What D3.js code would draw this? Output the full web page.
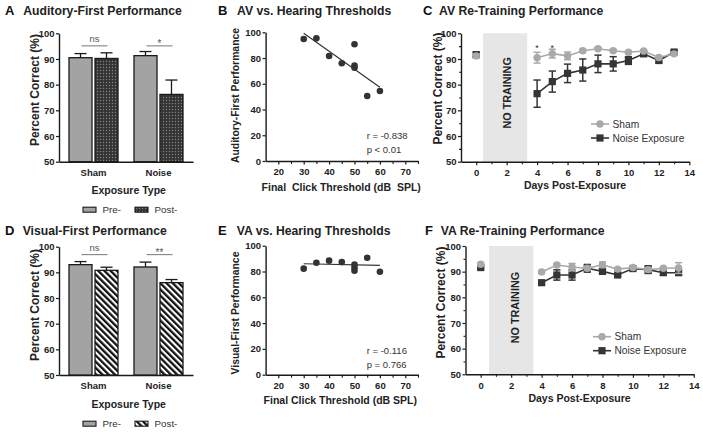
<!DOCTYPE html>
<html><head><meta charset="utf-8">
<script src="https://cdn.jsdelivr.net/npm/d3@7"></script>
<style>
body{margin:0;background:#fff;}
svg text{font-family:"Liberation Sans",Arial,Helvetica,sans-serif;}
</style></head><body>
<svg id="c" width="703" height="432"></svg>
<script>
// ---------------- DATA ----------------
const barGroups = ["Sham", "Noise"];
const barPhases = ["Pre-", "Post-"];
// Auditory-first (A)
const afPre = [90.5, 91.3];
const afPreErr = [1.6, 1.6];
const afPost = [90.2, 76.2];
const afPostErr = [2.2, 5.6];
const afSig = ["ns", "*"];
const afSigLevel = [95.1, 95.1];
// Visual-first (D)
const vfPre = [93.0, 92.1];
const vfPreErr = [1.2, 1.9];
const vfPost = [90.8, 86.0];
const vfPostErr = [1.2, 1.2];
const vfSig = ["ns", "**"];
const vfSigLevel = [96.9, 96.9];
const barTicks = [50, 60, 70, 80, 90, 100];

// Scatter (B, E)
const thresholds = [30, 35, 40, 45, 50, 50, 50, 55, 60];
const avPerf = [94.8, 95.3, 81.6, 75.9, 90.7, 74.1, 72.5, 50.5, 54.4];
const vaPerf = [82.2, 86.8, 88.4, 87.3, 85.3, 82.9, 80.6, 90.7, 79.8];
const avFitX = [30, 60], avFitY = [99.2, 57.3];
const vaFitX = [30, 60], vaFitY = [86.0, 84.8];
const avStats = ["r = -0.838", "p < 0.01"];
const vaStats = ["r = -0.116", "p = 0.766"];
const scatterXTicks = [20, 30, 40, 50, 60, 70];
const scatterXMinor = [25, 35, 45, 55, 65, 75];
const scatterYTicks = [0, 20, 40, 60, 80, 100];

// Re-training (C, F)
const days = [0, 4, 5, 6, 7, 8, 9, 10, 11, 12, 13];
const avSham = [91.2, 90.5, 92.1, 91.2, 93.2, 94.0, 93.2, 92.6, 93.1, 90.6, 92.0];
const avShamErr = [0.8, 2.1, 1.7, 1.5, 0.5, 0.5, 0.5, 0.5, 0.5, 0.5, 0.5];
const avNoise = [91.7, 76.5, 81.2, 84.4, 85.7, 88.1, 88.1, 89.4, 92.0, 89.4, 92.7];
const avNoiseErr = [0.8, 5.3, 4.1, 3.6, 4.3, 3.4, 2.8, 1.5, 0.8, 0.8, 0.6];
const vaSham = [92.9, 89.9, 92.6, 91.8, 91.3, 92.7, 91.0, 91.6, 90.8, 91.3, 91.4];
const vaShamErr = [0.6, 0.5, 0.5, 1.4, 0.8, 1.1, 0.5, 0.5, 0.8, 0.5, 2.1];
const vaNoise = [91.6, 85.7, 88.7, 88.7, 91.3, 90.1, 88.7, 91.2, 90.8, 89.6, 89.6];
const vaNoiseErr = [0.5, 0.5, 2.0, 2.0, 1.5, 1.0, 0.5, 0.5, 1.5, 1.0, 1.0];
const avNoTraining = [0.45, 3.35];
const vaNoTraining = [0.55, 3.45];
const avStarDays = [4, 5];
const lineXTicks = [0, 2, 4, 6, 8, 10, 12, 14];
const lineXMinor = [1, 3, 5, 7, 9, 11, 13];
const lineYTicks = [50, 60, 70, 80, 90, 100];
const lineYMinor = [55, 65, 75, 85, 95];
const seriesNames = ["Sham", "Noise Exposure"];

// ---------------- DRAWING ----------------
const svg = d3.select("#c");
const FONT = '"Liberation Sans",Arial,Helvetica,sans-serif';
const INK = "#1a1a1a";
const SHAM_C = "#a9a9a9";
const NOISE_C = "#353535";

const defs = svg.append("defs");
const pd = defs.append("pattern").attr("id", "dots").attr("patternUnits", "userSpaceOnUse")
  .attr("width", 3).attr("height", 3);
pd.append("rect").attr("width", 3).attr("height", 3).attr("fill", "#333");
pd.append("circle").attr("cx", 1.5).attr("cy", 1.5).attr("r", 0.7).attr("fill", "#858585");
const ps = defs.append("pattern").attr("id", "stripes").attr("patternUnits", "userSpaceOnUse")
  .attr("width", 4.4).attr("height", 10).attr("patternTransform", "rotate(-45)");
ps.append("rect").attr("width", 4.4).attr("height", 10).attr("fill", "#fff");
ps.append("rect").attr("width", 2.3).attr("height", 10).attr("fill", "#111");

function styleAxis(g, fs) {
  g.attr("font-family", FONT).attr("font-size", fs || 9.5).attr("font-weight", "bold");
  g.select(".domain").attr("stroke", INK).attr("stroke-width", 1.4);
  g.selectAll(".tick line").attr("stroke", INK).attr("stroke-width", 1.2);
  g.selectAll(".tick text").attr("fill", "#222");
}
function minorAxis(g) {
  g.select(".domain").remove();
  g.selectAll(".tick text").remove();
  g.selectAll(".tick line").attr("stroke", INK).attr("stroke-width", 1.1);
}
function title(x0, x1, y, letter, txt) {
  svg.append("text").attr("x", x0).attr("y", y).attr("font-size", 13).attr("font-weight", "bold")
    .attr("fill", "#111").text(letter);
  svg.append("text").attr("x", x1).attr("y", y).attr("font-size", 12.2).attr("font-weight", "bold")
    .attr("fill", "#222").text(txt);
}
function yLabel(x, cy, txt, fs) {
  svg.append("text").attr("transform", `translate(${x},${cy}) rotate(-90)`).attr("text-anchor", "middle")
    .attr("font-size", fs).attr("font-weight", "bold").attr("fill", "#222").text(txt);
}
function xLabel(cx, y, txt, fs) {
  svg.append("text").attr("x", cx).attr("y", y).attr("text-anchor", "middle")
    .attr("font-size", fs).attr("font-weight", "bold").attr("fill", "#222")
    .style("white-space", "pre").text(txt);
}

// ---- Bar panels ----
function barPanel(o) {
  const y = d3.scaleLinear().domain([50, 100]).range([o.yBot, o.yTop]);
  const xb = d3.scaleBand().domain(barGroups).range([59, 193]).paddingInner(0).paddingOuter(0.031);
  const sub = d3.scaleBand().domain(barPhases).range([-24.5, 24.5]).paddingInner(3 / 26);
  const cx = g => xb(g) + xb.bandwidth() / 2;

  svg.append("g").attr("transform", `translate(59,0)`)
    .call(d3.axisLeft(y).tickValues(barTicks).tickSize(3).tickPadding(1.5).tickSizeOuter(0))
    .call(g => styleAxis(g, 9.5));
  svg.append("g").attr("transform", `translate(0,${o.yBot})`)
    .call(d3.axisBottom(xb).tickSize(0).tickPadding(7.3).tickSizeOuter(0))
    .call(g => styleAxis(g, 9.5));

  const rows = [];
  barGroups.forEach((g, i) => {
    rows.push({ g, ph: "Pre-", v: o.pre[i], e: o.preErr[i], fill: "#a3a3a3" });
    rows.push({ g, ph: "Post-", v: o.post[i], e: o.postErr[i], fill: o.postFill });
  });
  const gb = svg.append("g");
  gb.selectAll("rect").data(rows).join("rect")
    .attr("x", d => cx(d.g) + sub(d.ph))
    .attr("width", sub.bandwidth())
    .attr("y", d => y(d.v))
    .attr("height", d => y(50) - y(d.v))
    .attr("fill", d => d.fill).attr("stroke", INK).attr("stroke-width", 1.3);
  const eb = svg.append("g").attr("stroke", INK).attr("stroke-width", 1.3);
  rows.forEach(d => {
    const xm = cx(d.g) + sub(d.ph) + sub.bandwidth() / 2;
    eb.append("line").attr("x1", xm).attr("x2", xm).attr("y1", y(d.v)).attr("y2", y(d.v + d.e));
    eb.append("line").attr("x1", xm - 6).attr("x2", xm + 6).attr("y1", y(d.v + d.e)).attr("y2", y(d.v + d.e));
  });
  // significance
  barGroups.forEach((g, i) => {
    const x1 = cx(g) + sub("Pre-") + sub.bandwidth() / 2 + 1;
    const x2 = cx(g) + sub("Post-") + sub.bandwidth() / 2 + 1;
    svg.append("line").attr("x1", x1).attr("x2", x2).attr("y1", y(o.sigLevel[i])).attr("y2", y(o.sigLevel[i]))
      .attr("stroke", "#777").attr("stroke-width", 1);
    const isStar = o.sig[i].indexOf("*") >= 0;
    svg.append("text").attr("x", (x1 + x2) / 2).attr("y", y(o.sigLevel[i]) - (isStar ? -1 : 3.5))
      .attr("text-anchor", "middle").attr("font-size", isStar ? 10 : 9.5).attr("fill", "#555")
      .text(o.sig[i]);
  });
  // legend
  const lg = svg.append("g");
  barPhases.forEach((p, i) => {
    const lx = 83 + i * 52;
    lg.append("rect").attr("x", lx).attr("y", o.legY - 2.5).attr("width", 13).attr("height", 5)
      .attr("fill", i === 0 ? "#a3a3a3" : o.postFill).attr("stroke", INK).attr("stroke-width", 1.1);
    lg.append("text").attr("x", lx + 19.5).attr("y", o.legY + 3.5).attr("font-size", 9.8)
      .attr("fill", "#333").text(p);
  });
}

// ---- Scatter panels ----
function scatterPanel(o) {
  const x = d3.scaleLinear().domain([15, 75]).range([265.6, 418]);
  const y = d3.scaleLinear().domain([0, 100]).range([o.yBot, o.yTop]);
  svg.append("g").attr("transform", `translate(${x(15)},0)`)
    .call(d3.axisLeft(y).tickValues(scatterYTicks).tickSize(3).tickPadding(1.5).tickSizeOuter(0))
    .call(g => styleAxis(g, 9.5));
  svg.append("g").attr("transform", `translate(0,${o.yBot})`)
    .call(d3.axisBottom(x).tickValues(scatterXMinor).tickSize(3).tickFormat(""))
    .call(minorAxis);
  svg.append("g").attr("transform", `translate(0,${o.yBot})`)
    .call(d3.axisBottom(x).tickValues(scatterXTicks).tickSize(3.5).tickPadding(4).tickSizeOuter(0))
    .call(g => styleAxis(g, 9.5));
  svg.append("path").datum(o.fitX.map((v, i) => [v, o.fitY[i]]))
    .attr("d", d3.line().x(d => x(d[0])).y(d => y(d[1])))
    .attr("stroke", "#333").attr("stroke-width", 1.2).attr("fill", "none");
  svg.append("g").selectAll("circle").data(thresholds.map((t, i) => [t, o.perf[i]])).join("circle")
    .attr("cx", d => x(d[0])).attr("cy", d => y(d[1])).attr("r", 3.3).attr("fill", "#333");
  o.stats.forEach((s, i) => {
    svg.append("text").attr("x", 366.7).attr("y", o.statY + i * 14).attr("font-size", 9.5)
      .attr("fill", "#333").text(s);
  });
}

// ---- Line panels ----
function linePanel(o) {
  const x = d3.scaleLinear().domain([-1, 14]).range([o.x0, o.x0 + 228.3]);
  const y = d3.scaleLinear().domain([50, 100]).range([o.yBot, o.yTop]);
  svg.append("rect").attr("x", x(o.nt[0])).attr("width", x(o.nt[1]) - x(o.nt[0]))
    .attr("y", y(100)).attr("height", y(50) - y(100)).attr("fill", "#e6e6e6");
  const ncx = (x(o.nt[0]) + x(o.nt[1])) / 2, ncy = y(o.ntY);
  svg.append("text").attr("transform", `translate(${ncx + o.ntDx},${ncy}) rotate(-90)`)
    .attr("text-anchor", "middle").attr("font-size", 10.8).attr("font-weight", "bold").attr("fill", "#222")
    .text("NO TRAINING");

  svg.append("g").attr("transform", `translate(${o.x0},0)`)
    .call(d3.axisLeft(y).tickValues(lineYMinor).tickSize(2).tickFormat(""))
    .call(minorAxis);
  svg.append("g").attr("transform", `translate(${o.x0},0)`)
    .call(d3.axisLeft(y).tickValues(lineYTicks).tickSize(3).tickPadding(1.5).tickSizeOuter(0))
    .call(g => styleAxis(g, 9.5));
  svg.append("g").attr("transform", `translate(0,${o.yBot})`)
    .call(d3.axisBottom(x).tickValues(lineXMinor).tickSize(2.5).tickFormat(""))
    .call(minorAxis);
  svg.append("g").attr("transform", `translate(0,${o.yBot})`)
    .call(d3.axisBottom(x).tickValues(lineXTicks).tickSize(3.5).tickPadding(4).tickSizeOuter(0))
    .call(g => styleAxis(g, 9.5));

  const series = [
    { name: seriesNames[1], v: o.noise, e: o.noiseErr, c: NOISE_C, shape: "sq" },
    { name: seriesNames[0], v: o.sham, e: o.shamErr, c: SHAM_C, shape: "ci" }
  ];
  series.forEach(s => {
    const pts = days.map((d, i) => ({ d, v: s.v[i], e: s.e[i] }));
    const g = svg.append("g");
    g.append("path").datum(pts.filter(p => p.d > 0))
      .attr("d", d3.line().x(p => x(p.d)).y(p => y(p.v)))
      .attr("fill", "none").attr("stroke", s.c).attr("stroke-width", 1.6);
    pts.forEach(p => {
      g.append("line").attr("x1", x(p.d)).attr("x2", x(p.d)).attr("y1", y(p.v - p.e)).attr("y2", y(p.v + p.e))
        .attr("stroke", s.c).attr("stroke-width", 1.5);
      [p.v - p.e, p.v + p.e].forEach(vv => g.append("line").attr("x1", x(p.d) - 3.6).attr("x2", x(p.d) + 3.6)
        .attr("y1", y(vv)).attr("y2", y(vv)).attr("stroke", s.c).attr("stroke-width", 1.5));
    });
    pts.forEach(p => {
      if (s.shape === "sq") g.append("rect").attr("x", x(p.d) - 3.6).attr("y", y(p.v) - 3.6)
        .attr("width", 7.2).attr("height", 7.2).attr("fill", s.c);
      else g.append("circle").attr("cx", x(p.d)).attr("cy", y(p.v)).attr("r", 3.7).attr("fill", s.c);
    });
  });
  // legend
  series.slice().reverse().forEach((s, i) => {
    const ly = o.legY + i * 14;
    svg.append("line").attr("x1", o.legX).attr("x2", o.legX + 18).attr("y1", ly).attr("y2", ly)
      .attr("stroke", s.c).attr("stroke-width", 1.6);
    if (s.shape === "sq") svg.append("rect").attr("x", o.legX + 9 - 3.6).attr("y", ly - 3.6)
      .attr("width", 7.2).attr("height", 7.2).attr("fill", s.c);
    else svg.append("circle").attr("cx", o.legX + 9).attr("cy", ly).attr("r", 3.7).attr("fill", s.c);
    svg.append("text").attr("x", o.legX + 21.5).attr("y", ly + 3.6).attr("font-size", 10.2)
      .attr("fill", "#333").text(s.name);
  });
  (o.stars || []).forEach(d => {
    svg.append("text").attr("x", x(d)).attr("y", y(95.2) + 5).attr("text-anchor", "middle")
      .attr("font-size", 9).attr("fill", "#333").text("*");
  });
}

// ---------------- PANELS ----------------
title(5, 23.3, 15, "A", "Auditory-First Performance");
barPanel({ yTop: 33.3, yBot: 161.7, pre: afPre, preErr: afPreErr, post: afPost, postErr: afPostErr,
  postFill: "url(#dots)", sig: afSig, sigLevel: afSigLevel, legY: 209.7 });
yLabel(38.5, 90, "Percent Correct (%)", 12);
xLabel(128.7, 193.5, "Exposure Type", 10.5);

title(5, 22.7, 234.5, "D", "Visual-First Performance");
barPanel({ yTop: 246.7, yBot: 375, pre: vfPre, preErr: vfPreErr, post: vfPost, postErr: vfPostErr,
  postFill: "url(#stripes)", sig: vfSig, sigLevel: vfSigLevel, legY: 423.7 });
yLabel(38.5, 305, "Percent Correct (%)", 12);
xLabel(128.7, 407.5, "Exposure Type", 10.5);

title(218, 237, 15, "B", "AV vs. Hearing Thresholds");
scatterPanel({ yTop: 32.3, yBot: 161, perf: avPerf, fitX: avFitX, fitY: avFitY, stats: avStats, statY: 138.5 });
yLabel(238.5, 95.5, "Auditory-First Performance", 10.4);
xLabel(341.2, 190.5, "Final  Click Threshold (dB  SPL)", 10.5);

title(218, 236.7, 235, "E", "VA vs. Hearing Thresholds");
scatterPanel({ yTop: 245.7, yBot: 374.7, perf: vaPerf, fitX: vaFitX, fitY: vaFitY, stats: vaStats, statY: 354 });
yLabel(238.5, 313, "Visual-First Performance", 10.4);
xLabel(340.3, 404, "Final Click Threshold (dB SPL)", 10.5);

title(423, 439, 15, "C", "AV Re-Training Performance");
linePanel({ x0: 461, yTop: 33.3, yBot: 161.7, sham: avSham, shamErr: avShamErr, noise: avNoise,
  noiseErr: avNoiseErr, nt: avNoTraining, ntY: 76.8, ntDx: 6, legX: 591, legY: 124, stars: avStarDays });
yLabel(441.5, 88.5, "Percent Correct (%)", 12);
xLabel(575, 189, "Days Post-Exposure", 10.5);

title(425, 440.7, 235, "F", "VA Re-Training Performance");
linePanel({ x0: 465.5, yTop: 246, yBot: 374.3, sham: vaSham, shamErr: vaShamErr, noise: vaNoise,
  noiseErr: vaNoiseErr, nt: vaNoTraining, ntY: 76.0, ntDx: 8, legX: 593, legY: 336.7 });
yLabel(444.5, 302.6, "Percent Correct (%)", 12);
xLabel(579.5, 402, "Days Post-Exposure", 10.5);
</script>
</body></html>
